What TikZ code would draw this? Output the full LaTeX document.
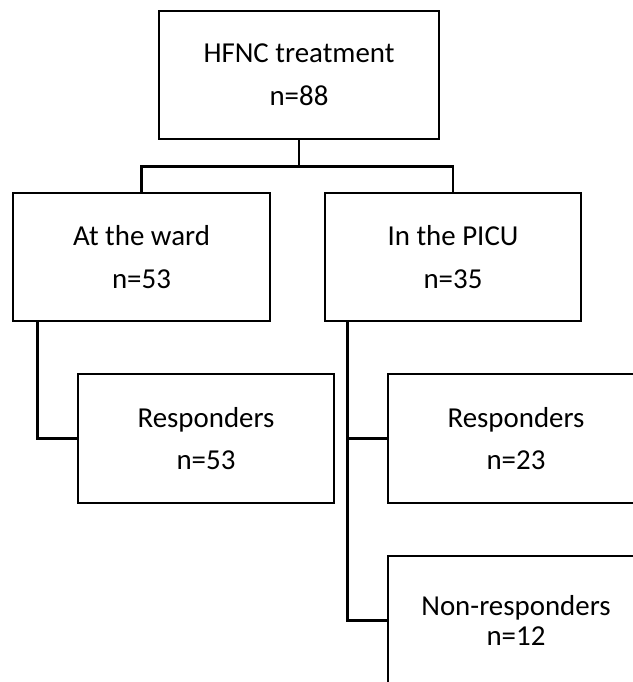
\documentclass[tikz,border=0pt]{standalone}
\usepackage{fontspec}
\setmainfont{Carlito}
\begin{document}
\begin{tikzpicture}[x=1bp,y=-1bp,
  box/.style={draw=black,line width=2.8bp,rectangle,fill=white,align=center,
    minimum width=#1,minimum height=128bp,inner sep=0pt,
    font=\fontsize{29}{43}\selectfont},
  link/.style={draw=black,line width=2.8bp}]
\useasboundingbox (0,0) rectangle (633,682);
\clip (0,0) rectangle (633,682);
\fill[white] (0,0) rectangle (633,682);
\node[box=280bp] (top) at (299,75) {HFNC treatment\\n=88};
\node[box=257bp] (ward) at (141.5,257) {At the ward\\n=53};
\node[box=256bp] (picu) at (453,257) {In the PICU\\n=35};
\node[box=256bp,minimum height=129bp] (respL) at (206,438.5) {Responders\\n=53};
\node[box=256bp,minimum height=129bp] (respR) at (516,438.5) {Responders\\n=23};
\node[box=256bp,minimum height=129bp,font=\fontsize{29}{31}\selectfont] (nonR) at (516,620.5) {Non-responders\\n=12};
\draw[link] (top.south) -- ++(0,26) coordinate (bus);
\draw[link] (ward.north) |- (bus) -| (picu.north);
\coordinate (vl) at ([xshift=26bp]ward.south west);
\draw[link] (vl) |- (respL.west);
\coordinate (vr) at ([xshift=24bp]picu.south west);
\draw[link] (vr) |- (nonR.west);
\draw[link] (respR.west) -- (respR.west -| vr);
\end{tikzpicture}
\end{document}
